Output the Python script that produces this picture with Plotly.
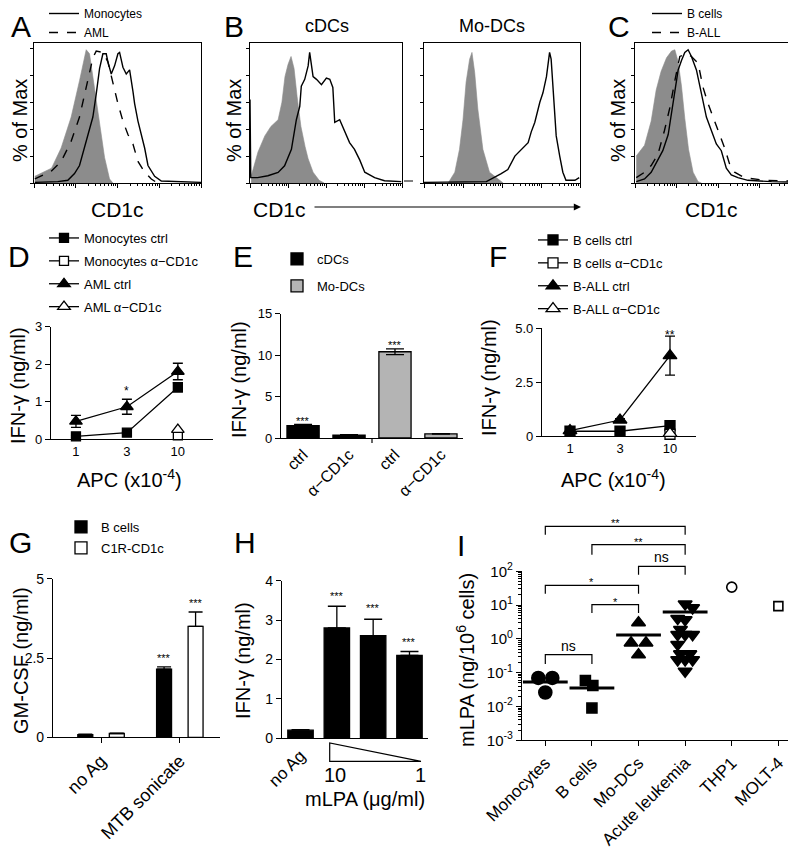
import numpy as np
import plotly.graph_objects as go

W, H = 796, 853
FONT = "Liberation Sans, Arial, sans-serif"

# ---------------- data ----------------
# A-C: CD1c histograms, x = CD1c fluorescence (log decades), y = % of max
a_iso_x = [0.02, 0.42, 0.65, 0.89, 1.09, 1.25, 1.33, 1.45, 1.57, 1.69, 1.81, 1.89]
a_iso_y = [5, 11, 26, 49, 76, 99, 96, 71, 44, 19, 3, 0]
a_mono_x = [0.02, 0.57, 0.81, 0.97, 1.09, 1.21, 1.29, 1.41, 1.49, 1.57, 1.65, 1.73, 1.77, 1.85, 1.93,
            2.01, 2.05, 2.13, 2.21, 2.29, 2.37, 2.41, 2.49, 2.57, 2.65, 2.73, 2.89, 3.05, 3.37, 4.0]
a_mono_y = [0.5, 1, 2, 7, 13, 26, 34, 49, 66, 85, 96, 96, 90, 81, 87,
            96, 97, 86, 81, 84, 68, 59, 46, 36, 26, 13, 5, 1.5, 1, 0.5]
a_aml_x = [0.02, 0.42, 0.65, 0.89, 1.09, 1.29, 1.41, 1.49, 1.65, 1.77, 1.89, 2.01, 2.13, 2.25,
           2.37, 2.49, 2.65, 2.81, 2.93]
a_aml_y = [3, 9, 16, 31, 49, 76, 93, 98, 97, 90, 74, 59, 46, 36, 29, 16, 8, 3, 0.5]

b_cdc_iso_x = [0.03, 0.21, 0.39, 0.55, 0.74, 0.84, 0.92, 1.0, 1.08, 1.16, 1.24, 1.34, 1.45, 1.53,
               1.66, 1.82, 1.95]
b_cdc_iso_y = [5, 23, 35, 42, 47, 60, 79, 88, 94, 85, 64, 42, 27, 18, 8, 2, 0]
b_cdc_x = [0.0, 0.02, 0.2, 0.47, 0.74, 0.91, 1.09, 1.22, 1.31, 1.35, 1.44, 1.53, 1.57, 1.66, 1.75,
           1.88, 2.01, 2.10, 2.18, 2.23, 2.36, 2.49, 2.62, 2.75, 2.89, 3.02, 3.28, 3.54, 3.98]
b_cdc_y = [62, 4, 4, 5.4, 7.9, 12.8, 25, 47, 57, 72, 77, 87, 97, 79, 77,
           73, 78, 77, 71, 45, 47, 38, 30, 25, 17, 8, 4, 1.7, 1]
b_mo_iso_x = [0.62, 0.79, 0.91, 1.0, 1.08, 1.17, 1.23, 1.3, 1.38, 1.51, 1.68, 1.9, 2.03]
b_mo_iso_y = [0, 8, 25, 47, 75, 92, 97, 82, 55, 25, 8, 3, 0]
b_mo_x = [0.0, 1.6, 1.98, 2.15, 2.33, 2.5, 2.67, 2.75, 2.84, 2.97, 3.05, 3.14, 3.22, 3.26, 3.31,
          3.39, 3.48, 3.56, 3.64, 3.87, 3.98]
b_mo_y = [0.5, 1, 7, 10, 20, 25, 30, 38, 45, 60, 67, 79, 97, 92, 67, 35, 20, 8, 2, 2, 4]

c_iso_x = [0.03, 0.23, 0.39, 0.51, 0.63, 0.76, 0.88, 0.96, 1.04, 1.12, 1.20, 1.29, 1.40, 1.52, 1.60]
c_iso_y = [20, 28, 46, 69, 83, 93, 98, 99, 90, 72, 48, 25, 8, 1, 0]
c_bcell_x = [0.03, 0.23, 0.39, 0.51, 0.67, 0.80, 0.88, 0.96, 1.04, 1.12, 1.20, 1.28, 1.36, 1.48,
             1.60, 1.72, 1.84, 1.96, 2.08, 2.20, 2.32, 2.48, 2.72, 3.29, 3.93, 3.97]
c_bcell_y = [1, 3, 8, 15, 24, 36, 51, 66, 84, 91, 97, 99, 94, 84,
             66, 49, 39, 29, 24, 11, 6, 4, 2, 1, 0.5, 8]
c_ball_x = [0.03, 0.23, 0.39, 0.55, 0.71, 0.84, 0.96, 1.08, 1.24, 1.36, 1.52, 1.64, 1.76, 1.88,
            2.04, 2.16, 2.28, 2.40, 2.64, 3.12, 3.85, 3.97]
c_ball_y = [4, 8, 13, 21, 39, 56, 76, 94, 96, 94, 89, 71, 59, 49, 36, 26, 14, 8, 4, 2, 1.5, 6]

# D: IFN-g vs APC number
apc = ["1", "3", "10"]
d_mono_ctrl = [0.07, 0.17, 1.38]
d_mono_ctrl_err = [0.03, 0.03, 0.12]
d_mono_ab = [None, None, 0.10]
d_aml_ctrl = [0.47, 0.86, 1.80]
d_aml_ctrl_err = [0.16, 0.20, 0.22]
d_aml_ab = [None, None, 0.25]

# E
e_cats = ["cDCs ctrl", "cDCs α−CD1c", "Mo-DCs ctrl", "Mo-DCs α−CD1c"]
e_ticktext = ["ctrl", "α−CD1c", "ctrl", "α−CD1c"]
e_cdc = [1.5, 0.35]
e_cdc_err = [0.15, 0.04]
e_mo = [10.4, 0.5]
e_mo_err = [0.35, 0.03]

# F
f_bc_ctrl = [0.22, 0.22, 0.48]
f_bc_ab = [None, None, 0.08]
f_ball_ctrl = [0.25, 0.74, 3.72]
f_ball_ctrl_err = [0.05, 0.06, 0.9]
f_ball_ab = [None, None, 0.12]

# G
g_cats = ["no Ag", "MTB sonicate"]
g_bcell = [0.08, 2.15]
g_bcell_err = [0.02, 0.07]
g_c1r = [0.12, 3.5]
g_c1r_err = [0.01, 0.45]

# H
h_cats = ["no Ag", "10", "3", "1"]
h_vals = [0.2, 2.8, 2.6, 2.1]
h_err = [0.01, 0.55, 0.42, 0.1]

# I: mLPA per 10^6 cells
i_cats = ["Monocytes", "B cells", "Mo-DCs", "Acute leukemia", "THP1", "MOLT-4"]
i_mono = [0.07, 0.07, 0.026]
i_mono_dx = [-0.15, 0.15, 0.0]
i_bcell = [0.059, 0.042, 0.009]
i_bcell_dx = [-0.14, 0.02, 0.0]
i_modc = [3.0, 0.76, 0.76, 0.34]
i_modc_dx = [0.0, -0.16, 0.16, 0.0]
i_leuk = [10.8, 8.3, 4.0, 3.7, 1.9, 1.34, 1.34, 1.34, 0.68, 0.36, 0.36, 0.24, 0.24, 0.24, 0.11]
i_leuk_dx = [0.0, 0.16, -0.16, 0.0, -0.1, -0.16, 0.0, 0.16, -0.16, -0.1, 0.1, -0.16, 0.0, 0.16, 0.0]
i_thp1 = [34]
i_molt4 = [9.3]
i_means = [0.053, 0.035, 1.3, 6.2]


# ---------------- helpers ----------------
def dom_x(l, r):
    return [l / W, r / W]


def dom_y(t, b):
    return [1 - b / H, 1 - t / H]


def sfx(n):
    return "" if n == 1 else str(n)


fig = go.Figure()
layout = {}
ann = []
shapes = []

AX = dict(showline=True, linecolor="black", linewidth=1.2, showgrid=False, zeroline=False,
          ticks="outside", tickcolor="black", ticklen=5, tickwidth=1.2,
          tickfont=dict(size=13, color="black"), fixedrange=True)

minor_dec = [d + np.log10(k) for d in range(4) for k in range(2, 10)]
GRAY = "#8c8c8c"


def hist_axes(n, left, right, top=35, bottom=175):
    layout["xaxis" + sfx(n)] = dict(AX, domain=dom_x(left, right), anchor="y" + sfx(n), range=[0, 4],
                                    mirror=True, linewidth=1, tickwidth=1, ticklen=4,
                                    tickvals=[0, 1, 2, 3, 4], showticklabels=False,
                                    minor=dict(tickvals=minor_dec, ticks="outside", ticklen=2,
                                               tickcolor="black", tickwidth=0.8))
    layout["yaxis" + sfx(n)] = dict(AX, domain=dom_y(top, bottom), anchor="x" + sfx(n), range=[0, 104],
                                    mirror=True, linewidth=1, tickwidth=1, ticklen=3,
                                    tickvals=[0, 20, 40, 60, 80, 100], showticklabels=False)


def hist_fill(n, x, y):
    fig.add_trace(go.Scatter(x=x, y=y, mode="lines", fill="tozeroy", fillcolor=GRAY,
                             line=dict(color=GRAY, width=0.6), xaxis="x" + sfx(n), yaxis="y" + sfx(n),
                             showlegend=False, hoverinfo="skip"))


def hist_line(n, x, y, name=None, dash="solid", legend="legend", rank=1):
    fig.add_trace(go.Scatter(x=x, y=y, mode="lines", name=name, line=dict(color="black", width=1.4, dash=dash),
                             xaxis="x" + sfx(n), yaxis="y" + sfx(n), showlegend=name is not None,
                             legend=legend, legendgroup=name, legendrank=rank, hoverinfo="skip"))


def dose_trace(n, y, name, sym, filled, size, legend, err=None):
    fig.add_trace(go.Scatter(
        x=apc, y=y, name=name, mode="lines+markers", legend=legend, legendgroup=name,
        marker=dict(symbol=sym, size=size, color="black" if filled else "white",
                    line=dict(color="black", width=1.3)),
        line=dict(color="black", width=1.3), cliponaxis=False,
        error_y=dict(type="data", array=err, color="black", thickness=1.3, width=5, visible=err is not None),
        xaxis="x" + sfx(n), yaxis="y" + sfx(n)))


def text(x, y, s, size=20, angle=0, xanchor="center", yanchor="middle"):
    ann.append(dict(x=x / W, y=1 - y / H, xref="paper", yref="paper", text=s, showarrow=False,
                    font=dict(size=size, color="black", family=FONT), textangle=angle,
                    xanchor=xanchor, yanchor=yanchor))


def star(n, x, y, s, size=11):
    ann.append(dict(x=x, y=y, xref="x" + sfx(n), yref="y" + sfx(n), text=s, showarrow=False,
                    font=dict(size=size, color="black", family=FONT), yshift=-2))


def leg(x, y, size=13, gap=0):
    return dict(x=x / W, y=1 - y / H, xanchor="left", yanchor="top", bgcolor="rgba(0,0,0,0)",
                font=dict(size=size, color="black", family=FONT), tracegroupgap=gap,
                itemclick=False, itemdoubleclick=False)


# ---------------- A ----------------
hist_axes(1, 26, 193)
hist_fill(1, a_iso_x, a_iso_y)
hist_line(1, a_aml_x, a_aml_y, "AML", "dash", "legend", 2)
hist_line(1, a_mono_x, a_mono_y, "Monocytes", "solid", "legend", 1)

# ---------------- B ----------------
hist_axes(2, 242, 394)
hist_fill(2, b_cdc_iso_x, b_cdc_iso_y)
hist_line(2, b_cdc_x, b_cdc_y)
hist_axes(3, 416, 572)
hist_fill(3, b_mo_iso_x, b_mo_iso_y)
hist_line(3, b_mo_x, b_mo_y)

# ---------------- C ----------------
hist_axes(4, 627, 793)
hist_fill(4, c_iso_x, c_iso_y)
hist_line(4, c_ball_x, c_ball_y, "B-ALL", "dash", "legend2", 2)
hist_line(4, c_bcell_x, c_bcell_y, "B cells", "solid", "legend2", 1)

# ---------------- D ----------------
layout["xaxis5"] = dict(AX, domain=dom_x(43, 205), anchor="y5", type="category", range=[-0.49, 2.69], ticks="")
layout["yaxis5"] = dict(AX, domain=dom_y(318.5, 431), anchor="x5", range=[0, 3], tickvals=[0, 1, 2, 3])
dose_trace(5, d_mono_ctrl, "Monocytes ctrl", "square", True, 9, "legend3", d_mono_ctrl_err)
dose_trace(5, d_mono_ab, "Monocytes α−CD1c", "square", False, 9, "legend3")
dose_trace(5, d_aml_ctrl, "AML ctrl", "triangle-up", True, 11, "legend3", d_aml_ctrl_err)
dose_trace(5, d_aml_ab, "AML α−CD1c", "triangle-up", False, 11, "legend3")
star(5, 1, 1.33, "*", 12)

# ---------------- E ----------------
layout["xaxis6"] = dict(AX, domain=dom_x(273, 455), anchor="y6", type="category", range=[-0.48, 3.48],
                        ticks="", tickvals=e_cats, ticktext=e_ticktext, tickangle=-45,
                        tickfont=dict(size=16, color="black"))
layout["yaxis6"] = dict(AX, domain=dom_y(305.6, 430), anchor="x6", range=[0, 15], tickvals=[0, 5, 10, 15])
fig.add_trace(go.Bar(x=e_cats[:2], y=e_cdc, name="cDCs", width=0.7, legend="legend4", legendgroup="cDCs",
                     marker=dict(color="black", line=dict(color="black", width=1.3)),
                     error_y=dict(type="data", array=e_cdc_err, color="black", thickness=1.3, width=9),
                     xaxis="x6", yaxis="y6"))
fig.add_trace(go.Bar(x=e_cats[2:], y=e_mo, name="Mo-DCs", width=0.7, legend="legend4", legendgroup="Mo",
                     marker=dict(color="#b4b4b4", line=dict(color="black", width=1.3)),
                     error_y=dict(type="data", array=e_mo_err, color="black", thickness=1.3, width=9),
                     xaxis="x6", yaxis="y6"))
star(6, 0, 2.3, "***")
star(6, 2, 11.4, "***")
shapes.append(dict(type="line", xref="x6", yref="paper", x0=1.5, x1=1.5, y0=1 - 430 / H, y1=1 - 435 / H,
                   line=dict(color="black", width=1.2)))

# ---------------- F ----------------
layout["xaxis7"] = dict(AX, domain=dom_x(534, 688), anchor="y7", type="category", range=[-0.56, 2.52], ticks="")
layout["yaxis7"] = dict(AX, domain=dom_y(320, 428), anchor="x7", range=[0, 5], tickvals=[0, 2.5, 5],
                        ticktext=["0", "2.5", "5.0"])
dose_trace(7, f_bc_ctrl, "B cells ctrl", "square", True, 10, "legend5")
dose_trace(7, f_bc_ab, "B cells α−CD1c", "square", False, 10, "legend5")
dose_trace(7, f_ball_ctrl, "B-ALL ctrl", "triangle-up", True, 12, "legend5", f_ball_ctrl_err)
dose_trace(7, f_ball_ab, "B-ALL α−CD1c", "triangle-up", False, 12, "legend5")
star(7, 2, 4.75, "**", 12)

# ---------------- G ----------------
layout["xaxis8"] = dict(AX, domain=dom_x(45, 212), anchor="y8", type="category", range=[-0.61, 1.51],
                        tickangle=-45, tickfont=dict(size=18, color="black"))
layout["yaxis8"] = dict(AX, domain=dom_y(570.7, 729.3), anchor="x8", range=[0, 5], tickvals=[0, 2.5, 5],
                        ticktext=["0", "2.5", "5"], tickfont=dict(size=14, color="black"))
fig.add_trace(go.Bar(x=g_cats, y=g_bcell, name="B cells", width=0.19, offset=-0.295, legend="legend6",
                     legendgroup="bc", marker=dict(color="black", line=dict(color="black", width=1.3)),
                     error_y=dict(type="data", symmetric=False, array=g_bcell_err, arrayminus=[0, 0],
                                  color="black", thickness=1.3, width=7),
                     xaxis="x8", yaxis="y8"))
fig.add_trace(go.Bar(x=g_cats, y=g_c1r, name="C1R-CD1c", width=0.19, offset=0.105, legend="legend6",
                     legendgroup="c1r", marker=dict(color="white", line=dict(color="black", width=1.3)),
                     error_y=dict(type="data", symmetric=False, array=g_c1r_err, arrayminus=[0, 0],
                                  color="black", thickness=1.3, width=7),
                     xaxis="x8", yaxis="y8"))
star(8, 0.8, 2.56, "***")
star(8, 1.2, 4.3, "***")

# ---------------- H ----------------
layout["xaxis9"] = dict(AX, domain=dom_x(274, 420), anchor="y9", type="category", range=[-0.51, 3.51],
                        ticks="", tickvals=["no Ag"], ticktext=["no Ag"], tickangle=-45,
                        tickfont=dict(size=17, color="black"))
layout["yaxis9"] = dict(AX, domain=dom_y(572.7, 730), anchor="x9", range=[0, 4], tickvals=[0, 1, 2, 3, 4],
                        tickfont=dict(size=14, color="black"))
fig.add_trace(go.Bar(x=h_cats, y=h_vals, width=0.7, showlegend=False,
                     marker=dict(color="black", line=dict(color="black", width=1.3)),
                     error_y=dict(type="data", symmetric=False, array=h_err, arrayminus=[0, 0, 0, 0],
                                  color="black", thickness=1.3, width=9),
                     xaxis="x9", yaxis="y9"))
for k, yy in zip([1, 2, 3], [3.65, 3.35, 2.49]):
    star(9, k, yy, "***")
wx0, wx1, wy0, wy1 = 321.7 / W, 413 / W, 1 - 735 / H, 1 - 753.3 / H
shapes.append(dict(type="path", xref="paper", yref="paper",
                   path=f"M {wx0},{wy0} L {wx0},{wy1} L {wx1},{wy1} Z",
                   line=dict(color="black", width=1.2), fillcolor="white"))
text(327, 767, "10", 20)
text(412, 767, "1", 20)
text(357, 791, "mLPA (μg/ml)", 20)

# ---------------- I ----------------
layout["xaxis10"] = dict(AX, domain=dom_x(514, 796), anchor="y10", range=[-0.5, 5.55],
                         tickvals=list(range(len(i_cats))), ticktext=i_cats, tickangle=-45,
                         tickfont=dict(size=17, color="black"))
layout["yaxis10"] = dict(AX, domain=dom_y(563.3, 732.3), anchor="x10", type="log", range=[-3, 2],
                         tickvals=[10.0 ** e for e in range(-3, 3)],
                         ticktext=[f"10<sup>{e}</sup>" for e in range(-3, 3)],
                         tickfont=dict(size=15, color="black"),
                         minor=dict(tickvals=[k * 10.0 ** e for e in range(-3, 2) for k in range(2, 10)],
                                    ticks="outside", ticklen=2.5, tickcolor="black", tickwidth=0.8))


def i_points(idx, vals, dx, sym, size, filled=True):
    fig.add_trace(go.Scatter(
        x=[idx + d for d in dx], y=vals, mode="markers", showlegend=False, cliponaxis=False,
        marker=dict(symbol=sym, size=size, color="black" if filled else "white",
                    line=dict(color="black", width=1.6)),
        xaxis="x10", yaxis="y10"))


i_points(i_cats.index("Monocytes"), i_mono, i_mono_dx, "circle", 13)
i_points(i_cats.index("B cells"), i_bcell, i_bcell_dx, "square", 10)
i_points(i_cats.index("Mo-DCs"), i_modc, i_modc_dx, "triangle-up", 12)
i_points(i_cats.index("Acute leukemia"), i_leuk, i_leuk_dx, "triangle-down", 12)
i_points(i_cats.index("THP1"), i_thp1, [0], "circle", 10, False)
i_points(i_cats.index("MOLT-4"), i_molt4, [0], "square", 9, False)
fig.add_trace(go.Scatter(x=list(range(len(i_means))), y=i_means, mode="markers", showlegend=False,
                         cliponaxis=False,
                         marker=dict(symbol="line-ew", size=32, line=dict(color="black", width=3)),
                         xaxis="x10", yaxis="y10"))

brackets = [  # (from, to, top px, drop px, label)
    (0, 1, 646.7, 656, "ns"),
    (0, 2, 577.3, 585.7, "*"),
    (1, 2, 596.7, 605, "*"),
    (2, 3, 558.3, 566.7, "ns"),
    (1, 3, 536.7, 546.7, "**"),
    (0, 3, 518.3, 526.7, "**"),
]
for i0, i1, top, drop, lab in brackets:
    yt, yd = 1 - top / H, 1 - drop / H
    shapes.append(dict(type="path", xref="x10", yref="paper",
                       path=f"M {i0},{yd} L {i0},{yt} L {i1},{yt} L {i1},{yd}",
                       line=dict(color="black", width=1.2)))
    ns = lab == "ns"
    ann.append(dict(x=(i0 + i1) / 2, y=yt, xref="x10", yref="paper", text=lab, showarrow=False,
                    yanchor="bottom", yshift=-1 if ns else -5,
                    font=dict(size=14 if ns else 11, color="black", family=FONT)))

# ---------------- text: letters, titles ----------------
for s, x, y in [("A", 13, 18), ("B", 226, 18), ("C", 611, 18), ("D", 11, 248), ("E", 235, 248),
                ("F", 490, 248), ("G", 12, 534), ("H", 237, 534), ("I", 453, 537)]:
    text(x, y, s, 30)

for x in (12, 226, 610):
    text(x, 113, "% of Max", 20, -90)
text(110, 202, "CD1c", 21)
text(703, 202, "CD1c", 21)
text(271, 202, "CD1c", 21)
ann.append(dict(x=573 / W, y=1 - 199 / H, xref="paper", yref="paper", text="", showarrow=True,
                ax=-268, ay=0, arrowhead=2, arrowsize=1.2, arrowwidth=1.2, arrowcolor="black"))
shapes.append(dict(type="line", xref="paper", yref="paper", x0=396 / W, x1=414 / W,
                   y0=1 - 173 / H, y1=1 - 173 / H, line=dict(color="black", width=1, dash="dash")))
text(319, 18, "cDCs", 18)
text(484, 18, "Mo-DCs", 18)

text(10, 378, "IFN-γ (ng/ml)", 20, -90)
text(231, 372, "IFN-γ (ng/ml)", 20, -90)
text(481, 370, "IFN-γ (ng/ml)", 20, -90)
text(121, 470, "APC (x10<sup>-4</sup>)", 20)
text(605, 470, "APC (x10<sup>-4</sup>)", 20)
text(13, 653, "GM-CSF (ng/ml)", 20, -90)
text(235, 652, "IFN-γ (ng/ml)", 20, -90)
text(457, 652, "mLPA (ng/10<sup>6</sup> cells)", 20, -90)

layout.update(
    width=W, height=H, margin=dict(l=0, r=0, t=0, b=0, pad=0, autoexpand=False), autosize=False,
    paper_bgcolor="white", plot_bgcolor="white", barmode="overlay",
    font=dict(family=FONT, color="black"),
    showlegend=True,
    legend=leg(36, -9, 12),
    legend2=leg(639, -9, 12),
    legend3=leg(36, 215, 13, 3),
    legend4=leg(269, 236, 13, 7),
    legend5=leg(525, 217, 13, 3),
    legend6=leg(53, 504, 13, 1),
    annotations=ann, shapes=shapes,
)
fig.update_layout(**layout)
fig.write_html("out.html")
